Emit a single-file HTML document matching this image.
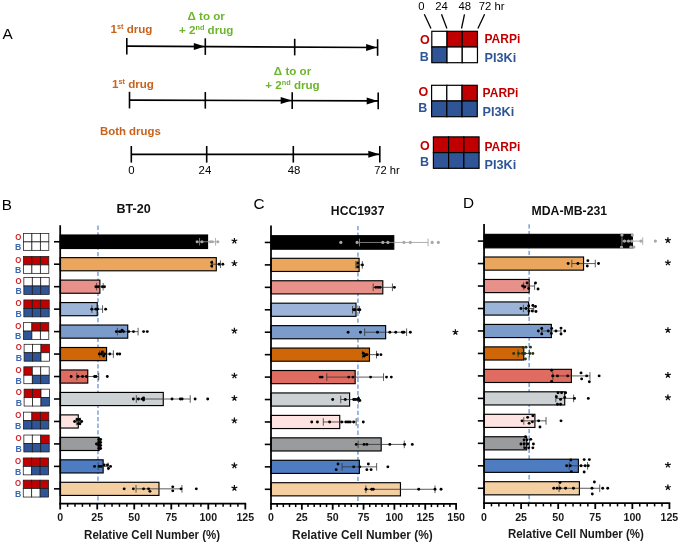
<!DOCTYPE html>
<html><head><meta charset="utf-8"><title>figure</title>
<style>
html,body{margin:0;padding:0;background:#fff;}
body{width:680px;height:543px;overflow:hidden;font-family:"Liberation Sans",sans-serif;}
svg{display:block;will-change:transform;}
svg text{font-family:"Liberation Sans",sans-serif;}
</style></head><body>
<svg width="680" height="543" viewBox="0 0 680 543">
<rect width="680" height="543" fill="#fff"/>
<text x="2.4" y="38.8" font-size="15.3" font-weight="normal" fill="#000" text-anchor="start" >A</text>
<text x="1.8" y="209.7" font-size="15.3" font-weight="normal" fill="#000" text-anchor="start" >B</text>
<text x="253.4" y="209.3" font-size="15.3" font-weight="normal" fill="#000" text-anchor="start" >C</text>
<text x="463" y="207.9" font-size="15.3" font-weight="normal" fill="#000" text-anchor="start" >D</text>
<line x1="126.8" y1="46.2" x2="377.6" y2="47.5" stroke="#000" stroke-width="1.7"/>
<line x1="126.8" y1="37.90" x2="126.8" y2="54.50" stroke="#000" stroke-width="1.6"/>
<line x1="205.3" y1="38.31" x2="205.3" y2="54.91" stroke="#000" stroke-width="1.6"/>
<line x1="294.7" y1="38.77" x2="294.7" y2="55.37" stroke="#000" stroke-width="1.6"/>
<line x1="377.6" y1="39.20" x2="377.6" y2="55.80" stroke="#000" stroke-width="1.6"/>
<path d="M204.8,46.61 L193.8,43.11 L193.8,50.11 Z" fill="#000"/>
<path d="M377.1,47.50 L366.1,44.00 L366.1,51.00 Z" fill="#000"/>
<line x1="129.5" y1="100.1" x2="378.2" y2="100.9" stroke="#000" stroke-width="1.7"/>
<line x1="129.5" y1="91.80" x2="129.5" y2="108.40" stroke="#000" stroke-width="1.6"/>
<line x1="205.3" y1="92.04" x2="205.3" y2="108.64" stroke="#000" stroke-width="1.6"/>
<line x1="292.2" y1="92.32" x2="292.2" y2="108.92" stroke="#000" stroke-width="1.6"/>
<line x1="378.2" y1="92.60" x2="378.2" y2="109.20" stroke="#000" stroke-width="1.6"/>
<path d="M291.7,100.62 L280.7,97.12 L280.7,104.12 Z" fill="#000"/>
<path d="M377.7,100.90 L366.7,97.40 L366.7,104.40 Z" fill="#000"/>
<line x1="131.3" y1="154.3" x2="379.8" y2="154.3" stroke="#000" stroke-width="1.7"/>
<line x1="131.3" y1="146.00" x2="131.3" y2="162.60" stroke="#000" stroke-width="1.6"/>
<line x1="206.7" y1="146.00" x2="206.7" y2="162.60" stroke="#000" stroke-width="1.6"/>
<line x1="293.3" y1="146.00" x2="293.3" y2="162.60" stroke="#000" stroke-width="1.6"/>
<line x1="379.8" y1="146.00" x2="379.8" y2="162.60" stroke="#000" stroke-width="1.6"/>
<path d="M379.3,154.30 L368.3,150.80 L368.3,157.80 Z" fill="#000"/>
<text x="110.5" y="32.5" font-size="11.6" font-weight="bold" fill="#c8621b">1<tspan dy="-3.8" font-size="7.3">st</tspan><tspan dy="3.8"> drug</tspan></text>
<text x="206.2" y="20" font-size="11.6" font-weight="bold" fill="#6cb52d" text-anchor="middle">Δ to or</text>
<text x="206.2" y="33.8" font-size="11.6" font-weight="bold" fill="#6cb52d" text-anchor="middle">+ 2<tspan dy="-3.8" font-size="7.3">nd</tspan><tspan dy="3.8"> drug</tspan></text>
<text x="112" y="87.5" font-size="11.6" font-weight="bold" fill="#c8621b">1<tspan dy="-3.8" font-size="7.3">st</tspan><tspan dy="3.8"> drug</tspan></text>
<text x="292.5" y="74.8" font-size="11.6" font-weight="bold" fill="#6cb52d" text-anchor="middle">Δ to or</text>
<text x="292.5" y="88.6" font-size="11.6" font-weight="bold" fill="#6cb52d" text-anchor="middle">+ 2<tspan dy="-3.8" font-size="7.3">nd</tspan><tspan dy="3.8"> drug</tspan></text>
<text x="100" y="135" font-size="11.4" font-weight="bold" fill="#c8621b" text-anchor="start" >Both drugs</text>
<text x="131.5" y="173.5" font-size="11.4" font-weight="normal" fill="#000" text-anchor="middle" >0</text>
<text x="204.9" y="173.5" font-size="11.4" font-weight="normal" fill="#000" text-anchor="middle" >24</text>
<text x="294" y="173.5" font-size="11.4" font-weight="normal" fill="#000" text-anchor="middle" >48</text>
<text x="374.3" y="173.5" font-size="11.2" font-weight="normal" fill="#000" text-anchor="start" >72 hr</text>
<text x="421.5" y="10.2" font-size="11.3" font-weight="normal" fill="#000" text-anchor="middle" >0</text>
<text x="441.5" y="10.2" font-size="11.3" font-weight="normal" fill="#000" text-anchor="middle" >24</text>
<text x="464.7" y="10.2" font-size="11.3" font-weight="normal" fill="#000" text-anchor="middle" >48</text>
<text x="478.8" y="10.2" font-size="11.3" font-weight="normal" fill="#000" text-anchor="start" >72 hr</text>
<line x1="424.3" y1="14.3" x2="431" y2="28.5" stroke="#000" stroke-width="1.3"/>
<line x1="441.5" y1="14.3" x2="446.9" y2="28.5" stroke="#000" stroke-width="1.3"/>
<line x1="464.5" y1="14.3" x2="461.5" y2="28.5" stroke="#000" stroke-width="1.3"/>
<line x1="484.6" y1="14.3" x2="477.9" y2="28.5" stroke="#000" stroke-width="1.3"/>
<rect x="431.80" y="31.30" width="15.22" height="15.7" fill="#fff" stroke="#000" stroke-width="1.2"/>
<rect x="447.02" y="31.30" width="15.22" height="15.7" fill="#c00000" stroke="#000" stroke-width="1.2"/>
<rect x="462.24" y="31.30" width="15.22" height="15.7" fill="#c00000" stroke="#000" stroke-width="1.2"/>
<rect x="431.80" y="47.00" width="15.22" height="15.7" fill="#2f5597" stroke="#000" stroke-width="1.2"/>
<rect x="447.02" y="47.00" width="15.22" height="15.7" fill="#fff" stroke="#000" stroke-width="1.2"/>
<rect x="462.24" y="47.00" width="15.22" height="15.7" fill="#fff" stroke="#000" stroke-width="1.2"/>
<text x="419.9" y="44.4" font-size="12.5" font-weight="bold" fill="#c00000" text-anchor="start" >O</text>
<text x="419.8" y="61.1" font-size="12.5" font-weight="bold" fill="#2f5597" text-anchor="start" >B</text>
<text x="484.5" y="42.9" font-size="12.5" font-weight="bold" fill="#c00000" text-anchor="start" textLength="35.8" lengthAdjust="spacingAndGlyphs">PARPi</text>
<text x="484.5" y="61.9" font-size="12.5" font-weight="bold" fill="#2f5597" text-anchor="start" textLength="31.7" lengthAdjust="spacingAndGlyphs">PI3Ki</text>
<rect x="431.60" y="85.30" width="15.22" height="15.7" fill="#fff" stroke="#000" stroke-width="1.2"/>
<rect x="446.82" y="85.30" width="15.22" height="15.7" fill="#fff" stroke="#000" stroke-width="1.2"/>
<rect x="462.04" y="85.30" width="15.22" height="15.7" fill="#c00000" stroke="#000" stroke-width="1.2"/>
<rect x="431.60" y="101.00" width="15.22" height="15.7" fill="#2f5597" stroke="#000" stroke-width="1.2"/>
<rect x="446.82" y="101.00" width="15.22" height="15.7" fill="#2f5597" stroke="#000" stroke-width="1.2"/>
<rect x="462.04" y="101.00" width="15.22" height="15.7" fill="#2f5597" stroke="#000" stroke-width="1.2"/>
<text x="418.5" y="96.2" font-size="12.5" font-weight="bold" fill="#c00000" text-anchor="start" >O</text>
<text x="418.3" y="112.4" font-size="12.5" font-weight="bold" fill="#2f5597" text-anchor="start" >B</text>
<text x="482.6" y="96.9" font-size="12.5" font-weight="bold" fill="#c00000" text-anchor="start" textLength="35.8" lengthAdjust="spacingAndGlyphs">PARPi</text>
<text x="482.6" y="115.5" font-size="12.5" font-weight="bold" fill="#2f5597" text-anchor="start" textLength="31.7" lengthAdjust="spacingAndGlyphs">PI3Ki</text>
<rect x="433.40" y="136.90" width="15.22" height="15.7" fill="#c00000" stroke="#000" stroke-width="1.2"/>
<rect x="448.62" y="136.90" width="15.22" height="15.7" fill="#c00000" stroke="#000" stroke-width="1.2"/>
<rect x="463.84" y="136.90" width="15.22" height="15.7" fill="#c00000" stroke="#000" stroke-width="1.2"/>
<rect x="433.40" y="152.60" width="15.22" height="15.7" fill="#2f5597" stroke="#000" stroke-width="1.2"/>
<rect x="448.62" y="152.60" width="15.22" height="15.7" fill="#2f5597" stroke="#000" stroke-width="1.2"/>
<rect x="463.84" y="152.60" width="15.22" height="15.7" fill="#2f5597" stroke="#000" stroke-width="1.2"/>
<text x="419.9" y="149.7" font-size="12.5" font-weight="bold" fill="#c00000" text-anchor="start" >O</text>
<text x="420" y="166.4" font-size="12.5" font-weight="bold" fill="#2f5597" text-anchor="start" >B</text>
<text x="484.5" y="150.5" font-size="12.5" font-weight="bold" fill="#c00000" text-anchor="start" textLength="35.8" lengthAdjust="spacingAndGlyphs">PARPi</text>
<text x="484.5" y="169.2" font-size="12.5" font-weight="bold" fill="#2f5597" text-anchor="start" textLength="31.7" lengthAdjust="spacingAndGlyphs">PI3Ki</text>
<rect x="23.45" y="233.45" width="8.45" height="8.45" fill="#fff" stroke="#1a1a1a" stroke-width="0.75"/>
<rect x="31.90" y="233.45" width="8.45" height="8.45" fill="#fff" stroke="#1a1a1a" stroke-width="0.75"/>
<rect x="40.35" y="233.45" width="8.45" height="8.45" fill="#fff" stroke="#1a1a1a" stroke-width="0.75"/>
<rect x="23.45" y="241.90" width="8.45" height="8.45" fill="#fff" stroke="#1a1a1a" stroke-width="0.75"/>
<rect x="31.90" y="241.90" width="8.45" height="8.45" fill="#fff" stroke="#1a1a1a" stroke-width="0.75"/>
<rect x="40.35" y="241.90" width="8.45" height="8.45" fill="#fff" stroke="#1a1a1a" stroke-width="0.75"/>
<text x="15.15" y="239.55" font-size="9.1" font-weight="bold" fill="#d0242c" text-anchor="start" textLength="6.1" lengthAdjust="spacingAndGlyphs">O</text>
<text x="15.10" y="250.25" font-size="9.1" font-weight="bold" fill="#3a66b0" text-anchor="start" textLength="6.3" lengthAdjust="spacingAndGlyphs">B</text>
<rect x="23.45" y="256.45" width="8.45" height="8.45" fill="#c00000" stroke="#1a1a1a" stroke-width="0.75"/>
<rect x="31.90" y="256.45" width="8.45" height="8.45" fill="#c00000" stroke="#1a1a1a" stroke-width="0.75"/>
<rect x="40.35" y="256.45" width="8.45" height="8.45" fill="#c00000" stroke="#1a1a1a" stroke-width="0.75"/>
<rect x="23.45" y="264.90" width="8.45" height="8.45" fill="#fff" stroke="#1a1a1a" stroke-width="0.75"/>
<rect x="31.90" y="264.90" width="8.45" height="8.45" fill="#fff" stroke="#1a1a1a" stroke-width="0.75"/>
<rect x="40.35" y="264.90" width="8.45" height="8.45" fill="#fff" stroke="#1a1a1a" stroke-width="0.75"/>
<text x="15.15" y="262.55" font-size="9.1" font-weight="bold" fill="#d0242c" text-anchor="start" textLength="6.1" lengthAdjust="spacingAndGlyphs">O</text>
<text x="15.10" y="273.25" font-size="9.1" font-weight="bold" fill="#3a66b0" text-anchor="start" textLength="6.3" lengthAdjust="spacingAndGlyphs">B</text>
<rect x="23.85" y="277.55" width="8.45" height="8.45" fill="#fff" stroke="#1a1a1a" stroke-width="0.75"/>
<rect x="32.30" y="277.55" width="8.45" height="8.45" fill="#fff" stroke="#1a1a1a" stroke-width="0.75"/>
<rect x="40.75" y="277.55" width="8.45" height="8.45" fill="#fff" stroke="#1a1a1a" stroke-width="0.75"/>
<rect x="23.85" y="286.00" width="8.45" height="8.45" fill="#2f5597" stroke="#1a1a1a" stroke-width="0.75"/>
<rect x="32.30" y="286.00" width="8.45" height="8.45" fill="#2f5597" stroke="#1a1a1a" stroke-width="0.75"/>
<rect x="40.75" y="286.00" width="8.45" height="8.45" fill="#2f5597" stroke="#1a1a1a" stroke-width="0.75"/>
<text x="15.55" y="283.65" font-size="9.1" font-weight="bold" fill="#d0242c" text-anchor="start" textLength="6.1" lengthAdjust="spacingAndGlyphs">O</text>
<text x="15.50" y="294.35" font-size="9.1" font-weight="bold" fill="#3a66b0" text-anchor="start" textLength="6.3" lengthAdjust="spacingAndGlyphs">B</text>
<rect x="23.85" y="299.95" width="8.45" height="8.45" fill="#c00000" stroke="#1a1a1a" stroke-width="0.75"/>
<rect x="32.30" y="299.95" width="8.45" height="8.45" fill="#c00000" stroke="#1a1a1a" stroke-width="0.75"/>
<rect x="40.75" y="299.95" width="8.45" height="8.45" fill="#c00000" stroke="#1a1a1a" stroke-width="0.75"/>
<rect x="23.85" y="308.40" width="8.45" height="8.45" fill="#2f5597" stroke="#1a1a1a" stroke-width="0.75"/>
<rect x="32.30" y="308.40" width="8.45" height="8.45" fill="#2f5597" stroke="#1a1a1a" stroke-width="0.75"/>
<rect x="40.75" y="308.40" width="8.45" height="8.45" fill="#2f5597" stroke="#1a1a1a" stroke-width="0.75"/>
<text x="15.55" y="306.05" font-size="9.1" font-weight="bold" fill="#d0242c" text-anchor="start" textLength="6.1" lengthAdjust="spacingAndGlyphs">O</text>
<text x="15.50" y="316.75" font-size="9.1" font-weight="bold" fill="#3a66b0" text-anchor="start" textLength="6.3" lengthAdjust="spacingAndGlyphs">B</text>
<rect x="23.45" y="322.65" width="8.45" height="8.45" fill="#fff" stroke="#1a1a1a" stroke-width="0.75"/>
<rect x="31.90" y="322.65" width="8.45" height="8.45" fill="#c00000" stroke="#1a1a1a" stroke-width="0.75"/>
<rect x="40.35" y="322.65" width="8.45" height="8.45" fill="#c00000" stroke="#1a1a1a" stroke-width="0.75"/>
<rect x="23.45" y="331.10" width="8.45" height="8.45" fill="#2f5597" stroke="#1a1a1a" stroke-width="0.75"/>
<rect x="31.90" y="331.10" width="8.45" height="8.45" fill="#fff" stroke="#1a1a1a" stroke-width="0.75"/>
<rect x="40.35" y="331.10" width="8.45" height="8.45" fill="#fff" stroke="#1a1a1a" stroke-width="0.75"/>
<text x="15.15" y="328.75" font-size="9.1" font-weight="bold" fill="#d0242c" text-anchor="start" textLength="6.1" lengthAdjust="spacingAndGlyphs">O</text>
<text x="15.10" y="339.45" font-size="9.1" font-weight="bold" fill="#3a66b0" text-anchor="start" textLength="6.3" lengthAdjust="spacingAndGlyphs">B</text>
<rect x="24.10" y="344.30" width="8.45" height="8.45" fill="#fff" stroke="#1a1a1a" stroke-width="0.75"/>
<rect x="32.55" y="344.30" width="8.45" height="8.45" fill="#fff" stroke="#1a1a1a" stroke-width="0.75"/>
<rect x="41.00" y="344.30" width="8.45" height="8.45" fill="#c00000" stroke="#1a1a1a" stroke-width="0.75"/>
<rect x="24.10" y="352.75" width="8.45" height="8.45" fill="#2f5597" stroke="#1a1a1a" stroke-width="0.75"/>
<rect x="32.55" y="352.75" width="8.45" height="8.45" fill="#2f5597" stroke="#1a1a1a" stroke-width="0.75"/>
<rect x="41.00" y="352.75" width="8.45" height="8.45" fill="#fff" stroke="#1a1a1a" stroke-width="0.75"/>
<text x="15.80" y="350.40" font-size="9.1" font-weight="bold" fill="#d0242c" text-anchor="start" textLength="6.1" lengthAdjust="spacingAndGlyphs">O</text>
<text x="15.75" y="361.10" font-size="9.1" font-weight="bold" fill="#3a66b0" text-anchor="start" textLength="6.3" lengthAdjust="spacingAndGlyphs">B</text>
<rect x="23.85" y="366.80" width="8.45" height="8.45" fill="#c00000" stroke="#1a1a1a" stroke-width="0.75"/>
<rect x="32.30" y="366.80" width="8.45" height="8.45" fill="#fff" stroke="#1a1a1a" stroke-width="0.75"/>
<rect x="40.75" y="366.80" width="8.45" height="8.45" fill="#fff" stroke="#1a1a1a" stroke-width="0.75"/>
<rect x="23.85" y="375.25" width="8.45" height="8.45" fill="#fff" stroke="#1a1a1a" stroke-width="0.75"/>
<rect x="32.30" y="375.25" width="8.45" height="8.45" fill="#2f5597" stroke="#1a1a1a" stroke-width="0.75"/>
<rect x="40.75" y="375.25" width="8.45" height="8.45" fill="#2f5597" stroke="#1a1a1a" stroke-width="0.75"/>
<text x="15.55" y="372.90" font-size="9.1" font-weight="bold" fill="#d0242c" text-anchor="start" textLength="6.1" lengthAdjust="spacingAndGlyphs">O</text>
<text x="15.50" y="383.60" font-size="9.1" font-weight="bold" fill="#3a66b0" text-anchor="start" textLength="6.3" lengthAdjust="spacingAndGlyphs">B</text>
<rect x="24.10" y="389.15" width="8.45" height="8.45" fill="#c00000" stroke="#1a1a1a" stroke-width="0.75"/>
<rect x="32.55" y="389.15" width="8.45" height="8.45" fill="#c00000" stroke="#1a1a1a" stroke-width="0.75"/>
<rect x="41.00" y="389.15" width="8.45" height="8.45" fill="#fff" stroke="#1a1a1a" stroke-width="0.75"/>
<rect x="24.10" y="397.60" width="8.45" height="8.45" fill="#fff" stroke="#1a1a1a" stroke-width="0.75"/>
<rect x="32.55" y="397.60" width="8.45" height="8.45" fill="#fff" stroke="#1a1a1a" stroke-width="0.75"/>
<rect x="41.00" y="397.60" width="8.45" height="8.45" fill="#2f5597" stroke="#1a1a1a" stroke-width="0.75"/>
<text x="15.80" y="395.25" font-size="9.1" font-weight="bold" fill="#d0242c" text-anchor="start" textLength="6.1" lengthAdjust="spacingAndGlyphs">O</text>
<text x="15.75" y="405.95" font-size="9.1" font-weight="bold" fill="#3a66b0" text-anchor="start" textLength="6.3" lengthAdjust="spacingAndGlyphs">B</text>
<rect x="23.45" y="412.15" width="8.45" height="8.45" fill="#fff" stroke="#1a1a1a" stroke-width="0.75"/>
<rect x="31.90" y="412.15" width="8.45" height="8.45" fill="#c00000" stroke="#1a1a1a" stroke-width="0.75"/>
<rect x="40.35" y="412.15" width="8.45" height="8.45" fill="#c00000" stroke="#1a1a1a" stroke-width="0.75"/>
<rect x="23.45" y="420.60" width="8.45" height="8.45" fill="#2f5597" stroke="#1a1a1a" stroke-width="0.75"/>
<rect x="31.90" y="420.60" width="8.45" height="8.45" fill="#2f5597" stroke="#1a1a1a" stroke-width="0.75"/>
<rect x="40.35" y="420.60" width="8.45" height="8.45" fill="#2f5597" stroke="#1a1a1a" stroke-width="0.75"/>
<text x="15.15" y="418.25" font-size="9.1" font-weight="bold" fill="#d0242c" text-anchor="start" textLength="6.1" lengthAdjust="spacingAndGlyphs">O</text>
<text x="15.10" y="428.95" font-size="9.1" font-weight="bold" fill="#3a66b0" text-anchor="start" textLength="6.3" lengthAdjust="spacingAndGlyphs">B</text>
<rect x="23.85" y="435.05" width="8.45" height="8.45" fill="#fff" stroke="#1a1a1a" stroke-width="0.75"/>
<rect x="32.30" y="435.05" width="8.45" height="8.45" fill="#fff" stroke="#1a1a1a" stroke-width="0.75"/>
<rect x="40.75" y="435.05" width="8.45" height="8.45" fill="#c00000" stroke="#1a1a1a" stroke-width="0.75"/>
<rect x="23.85" y="443.50" width="8.45" height="8.45" fill="#2f5597" stroke="#1a1a1a" stroke-width="0.75"/>
<rect x="32.30" y="443.50" width="8.45" height="8.45" fill="#2f5597" stroke="#1a1a1a" stroke-width="0.75"/>
<rect x="40.75" y="443.50" width="8.45" height="8.45" fill="#2f5597" stroke="#1a1a1a" stroke-width="0.75"/>
<text x="15.55" y="441.15" font-size="9.1" font-weight="bold" fill="#d0242c" text-anchor="start" textLength="6.1" lengthAdjust="spacingAndGlyphs">O</text>
<text x="15.50" y="451.85" font-size="9.1" font-weight="bold" fill="#3a66b0" text-anchor="start" textLength="6.3" lengthAdjust="spacingAndGlyphs">B</text>
<rect x="23.25" y="457.95" width="8.45" height="8.45" fill="#c00000" stroke="#1a1a1a" stroke-width="0.75"/>
<rect x="31.70" y="457.95" width="8.45" height="8.45" fill="#c00000" stroke="#1a1a1a" stroke-width="0.75"/>
<rect x="40.15" y="457.95" width="8.45" height="8.45" fill="#c00000" stroke="#1a1a1a" stroke-width="0.75"/>
<rect x="23.25" y="466.40" width="8.45" height="8.45" fill="#fff" stroke="#1a1a1a" stroke-width="0.75"/>
<rect x="31.70" y="466.40" width="8.45" height="8.45" fill="#2f5597" stroke="#1a1a1a" stroke-width="0.75"/>
<rect x="40.15" y="466.40" width="8.45" height="8.45" fill="#2f5597" stroke="#1a1a1a" stroke-width="0.75"/>
<text x="14.95" y="464.05" font-size="9.1" font-weight="bold" fill="#d0242c" text-anchor="start" textLength="6.1" lengthAdjust="spacingAndGlyphs">O</text>
<text x="14.90" y="474.75" font-size="9.1" font-weight="bold" fill="#3a66b0" text-anchor="start" textLength="6.3" lengthAdjust="spacingAndGlyphs">B</text>
<rect x="23.25" y="480.15" width="8.45" height="8.45" fill="#c00000" stroke="#1a1a1a" stroke-width="0.75"/>
<rect x="31.70" y="480.15" width="8.45" height="8.45" fill="#c00000" stroke="#1a1a1a" stroke-width="0.75"/>
<rect x="40.15" y="480.15" width="8.45" height="8.45" fill="#c00000" stroke="#1a1a1a" stroke-width="0.75"/>
<rect x="23.25" y="488.60" width="8.45" height="8.45" fill="#fff" stroke="#1a1a1a" stroke-width="0.75"/>
<rect x="31.70" y="488.60" width="8.45" height="8.45" fill="#fff" stroke="#1a1a1a" stroke-width="0.75"/>
<rect x="40.15" y="488.60" width="8.45" height="8.45" fill="#2f5597" stroke="#1a1a1a" stroke-width="0.75"/>
<text x="14.95" y="486.25" font-size="9.1" font-weight="bold" fill="#d0242c" text-anchor="start" textLength="6.1" lengthAdjust="spacingAndGlyphs">O</text>
<text x="14.90" y="496.95" font-size="9.1" font-weight="bold" fill="#3a66b0" text-anchor="start" textLength="6.3" lengthAdjust="spacingAndGlyphs">B</text>
<line x1="97.97" y1="225.6" x2="97.97" y2="503.65" stroke="#6f98d6" stroke-width="1.35" stroke-dasharray="4.3,2.3"/>
<rect x="60.2" y="235.00" width="147.36" height="13.5" fill="#000000" stroke="#000" stroke-width="1.15"/>
<path d="M199.56,241.75 H215.56 M199.56,237.95 v7.6 M215.56,237.95 v7.6" stroke="#9a9a9a" stroke-width="0.8" fill="none"/>
<circle cx="197.19" cy="241.75" r="1.6" fill="#a8a8a8"/>
<circle cx="201.93" cy="241.75" r="1.6" fill="#a8a8a8"/>
<circle cx="210.37" cy="241.75" r="1.6" fill="#a8a8a8"/>
<circle cx="212.30" cy="241.75" r="1.6" fill="#a8a8a8"/>
<circle cx="217.78" cy="241.75" r="1.6" fill="#a8a8a8"/>
<line x1="54.0" y1="241.75" x2="60.2" y2="241.75" stroke="#000" stroke-width="1.6"/>
<rect x="60.2" y="257.64" width="156.10" height="13.15" fill="#e9a65c" stroke="#000" stroke-width="1.15"/>
<path d="M212.15,264.21 H220.44 M212.15,260.41 v7.6 M220.44,260.41 v7.6" stroke="#333" stroke-width="0.8" fill="none"/>
<circle cx="211.71" cy="262.41" r="1.45" fill="#000"/>
<circle cx="211.71" cy="266.01" r="1.45" fill="#000"/>
<circle cx="219.11" cy="264.21" r="1.45" fill="#000"/>
<circle cx="222.81" cy="264.21" r="1.45" fill="#000"/>
<line x1="54.0" y1="264.21" x2="60.2" y2="264.21" stroke="#000" stroke-width="1.6"/>
<rect x="60.2" y="280.10" width="39.69" height="13.15" fill="#e8908a" stroke="#000" stroke-width="1.15"/>
<path d="M96.63,286.68 H103.15 M96.63,282.88 v7.6 M103.15,282.88 v7.6" stroke="#333" stroke-width="0.8" fill="none"/>
<circle cx="95.89" cy="286.68" r="1.45" fill="#000"/>
<circle cx="98.26" cy="286.68" r="1.45" fill="#000"/>
<circle cx="102.41" cy="286.68" r="1.45" fill="#000"/>
<circle cx="104.48" cy="286.68" r="1.45" fill="#000"/>
<line x1="54.0" y1="286.68" x2="60.2" y2="286.68" stroke="#000" stroke-width="1.6"/>
<rect x="60.2" y="302.57" width="37.03" height="13.15" fill="#9cb4d8" stroke="#000" stroke-width="1.15"/>
<path d="M91.89,309.14 H102.56 M91.89,305.34 v7.6 M102.56,305.34 v7.6" stroke="#333" stroke-width="0.8" fill="none"/>
<circle cx="91.75" cy="309.14" r="1.45" fill="#000"/>
<circle cx="95.89" cy="309.14" r="1.45" fill="#000"/>
<circle cx="97.52" cy="309.14" r="1.45" fill="#000"/>
<circle cx="105.67" cy="309.14" r="1.45" fill="#000"/>
<line x1="54.0" y1="309.14" x2="60.2" y2="309.14" stroke="#000" stroke-width="1.6"/>
<rect x="60.2" y="325.03" width="67.53" height="13.15" fill="#7b9bcb" stroke="#000" stroke-width="1.15"/>
<path d="M117.37,331.61 H138.10 M117.37,327.81 v7.6 M138.10,327.81 v7.6" stroke="#333" stroke-width="0.8" fill="none"/>
<circle cx="116.33" cy="331.61" r="1.45" fill="#000"/>
<circle cx="119.44" cy="331.61" r="1.45" fill="#000"/>
<circle cx="120.92" cy="331.61" r="1.45" fill="#000"/>
<circle cx="122.11" cy="330.11" r="1.45" fill="#000"/>
<circle cx="123.59" cy="331.61" r="1.45" fill="#000"/>
<circle cx="128.77" cy="331.61" r="1.45" fill="#000"/>
<circle cx="133.51" cy="331.61" r="1.45" fill="#000"/>
<circle cx="143.58" cy="331.61" r="1.45" fill="#000"/>
<circle cx="147.28" cy="331.61" r="1.45" fill="#000"/>
<line x1="54.0" y1="331.61" x2="60.2" y2="331.61" stroke="#000" stroke-width="1.6"/>
<rect x="60.2" y="347.50" width="46.36" height="13.15" fill="#cf6708" stroke="#000" stroke-width="1.15"/>
<path d="M99.74,354.07 H113.37 M99.74,350.27 v7.6 M113.37,350.27 v7.6" stroke="#333" stroke-width="0.8" fill="none"/>
<circle cx="99.30" cy="354.07" r="1.45" fill="#000"/>
<circle cx="101.37" cy="354.07" r="1.45" fill="#000"/>
<circle cx="102.41" cy="352.07" r="1.45" fill="#000"/>
<circle cx="103.59" cy="356.07" r="1.45" fill="#000"/>
<circle cx="104.63" cy="354.07" r="1.45" fill="#000"/>
<circle cx="109.81" cy="354.07" r="1.45" fill="#000"/>
<circle cx="117.37" cy="354.07" r="1.45" fill="#000"/>
<circle cx="119.74" cy="354.07" r="1.45" fill="#000"/>
<line x1="54.0" y1="354.07" x2="60.2" y2="354.07" stroke="#000" stroke-width="1.6"/>
<rect x="60.2" y="369.96" width="27.55" height="13.15" fill="#e06b60" stroke="#000" stroke-width="1.15"/>
<path d="M76.79,376.53 H98.71 M76.79,372.73 v7.6 M98.71,372.73 v7.6" stroke="#333" stroke-width="0.8" fill="none"/>
<circle cx="71.16" cy="376.53" r="1.45" fill="#000"/>
<circle cx="77.97" cy="376.53" r="1.45" fill="#000"/>
<circle cx="82.56" cy="376.53" r="1.45" fill="#000"/>
<circle cx="86.41" cy="376.53" r="1.45" fill="#000"/>
<circle cx="94.56" cy="376.53" r="1.45" fill="#000"/>
<circle cx="96.04" cy="376.53" r="1.45" fill="#000"/>
<circle cx="107.30" cy="376.53" r="1.45" fill="#000"/>
<line x1="54.0" y1="376.53" x2="60.2" y2="376.53" stroke="#000" stroke-width="1.6"/>
<rect x="60.2" y="392.42" width="103.08" height="13.15" fill="#ccd2d3" stroke="#000" stroke-width="1.15"/>
<path d="M136.32,399.00 H190.23 M136.32,395.20 v7.6 M190.23,395.20 v7.6" stroke="#333" stroke-width="0.8" fill="none"/>
<circle cx="133.36" cy="399.00" r="1.45" fill="#000"/>
<circle cx="138.40" cy="399.00" r="1.45" fill="#000"/>
<circle cx="142.25" cy="399.00" r="1.45" fill="#000"/>
<circle cx="143.58" cy="398.00" r="1.45" fill="#000"/>
<circle cx="143.58" cy="400.00" r="1.45" fill="#000"/>
<circle cx="172.02" cy="399.00" r="1.45" fill="#000"/>
<circle cx="180.31" cy="399.00" r="1.45" fill="#000"/>
<circle cx="182.09" cy="399.00" r="1.45" fill="#000"/>
<circle cx="195.12" cy="399.00" r="1.45" fill="#000"/>
<circle cx="207.71" cy="399.00" r="1.45" fill="#000"/>
<line x1="54.0" y1="399.00" x2="60.2" y2="399.00" stroke="#000" stroke-width="1.6"/>
<rect x="60.2" y="414.89" width="18.07" height="13.15" fill="#fde3e1" stroke="#000" stroke-width="1.15"/>
<path d="M76.34,421.46 H80.19 M76.34,417.66 v7.6 M80.19,417.66 v7.6" stroke="#333" stroke-width="0.8" fill="none"/>
<circle cx="74.57" cy="421.46" r="1.45" fill="#000"/>
<circle cx="77.08" cy="419.46" r="1.45" fill="#000"/>
<circle cx="78.27" cy="423.66" r="1.45" fill="#000"/>
<circle cx="79.60" cy="419.46" r="1.45" fill="#000"/>
<circle cx="79.90" cy="423.66" r="1.45" fill="#000"/>
<circle cx="81.67" cy="421.46" r="1.45" fill="#000"/>
<line x1="54.0" y1="421.46" x2="60.2" y2="421.46" stroke="#000" stroke-width="1.6"/>
<rect x="60.2" y="437.35" width="38.95" height="13.15" fill="#9a9b9c" stroke="#000" stroke-width="1.15"/>
<path d="M97.97,443.93 H100.34 M97.97,440.13 v7.6 M100.34,440.13 v7.6" stroke="#333" stroke-width="0.8" fill="none"/>
<circle cx="96.48" cy="443.93" r="1.45" fill="#000"/>
<circle cx="98.71" cy="439.43" r="1.45" fill="#000"/>
<circle cx="100.63" cy="439.43" r="1.45" fill="#000"/>
<circle cx="98.71" cy="442.43" r="1.45" fill="#000"/>
<circle cx="100.63" cy="442.43" r="1.45" fill="#000"/>
<circle cx="98.71" cy="445.43" r="1.45" fill="#000"/>
<circle cx="100.63" cy="445.43" r="1.45" fill="#000"/>
<circle cx="98.71" cy="448.43" r="1.45" fill="#000"/>
<circle cx="100.63" cy="448.43" r="1.45" fill="#000"/>
<line x1="54.0" y1="443.93" x2="60.2" y2="443.93" stroke="#000" stroke-width="1.6"/>
<rect x="60.2" y="459.81" width="42.95" height="13.15" fill="#4d7cc0" stroke="#000" stroke-width="1.15"/>
<path d="M98.11,466.39 H108.18 M98.11,462.59 v7.6 M108.18,462.59 v7.6" stroke="#333" stroke-width="0.8" fill="none"/>
<circle cx="94.56" cy="466.39" r="1.45" fill="#000"/>
<circle cx="99.15" cy="466.39" r="1.45" fill="#000"/>
<circle cx="101.22" cy="466.39" r="1.45" fill="#000"/>
<circle cx="104.19" cy="464.89" r="1.45" fill="#000"/>
<circle cx="107.44" cy="464.89" r="1.45" fill="#000"/>
<circle cx="108.48" cy="468.39" r="1.45" fill="#000"/>
<circle cx="110.55" cy="466.39" r="1.45" fill="#000"/>
<line x1="54.0" y1="466.39" x2="60.2" y2="466.39" stroke="#000" stroke-width="1.6"/>
<rect x="60.2" y="482.28" width="98.78" height="13.15" fill="#f4cfa2" stroke="#000" stroke-width="1.15"/>
<path d="M136.03,488.85 H181.94 M136.03,485.05 v7.6 M181.94,485.05 v7.6" stroke="#333" stroke-width="0.8" fill="none"/>
<circle cx="124.18" cy="488.85" r="1.45" fill="#000"/>
<circle cx="133.36" cy="488.85" r="1.45" fill="#000"/>
<circle cx="143.58" cy="488.85" r="1.45" fill="#000"/>
<circle cx="148.62" cy="488.85" r="1.45" fill="#000"/>
<circle cx="149.95" cy="491.35" r="1.45" fill="#000"/>
<circle cx="172.76" cy="486.85" r="1.45" fill="#000"/>
<circle cx="172.76" cy="490.85" r="1.45" fill="#000"/>
<circle cx="181.05" cy="488.85" r="1.45" fill="#000"/>
<circle cx="196.30" cy="488.85" r="1.45" fill="#000"/>
<line x1="54.0" y1="488.85" x2="60.2" y2="488.85" stroke="#000" stroke-width="1.6"/>
<line x1="60.2" y1="225.2" x2="60.2" y2="504.5" stroke="#000" stroke-width="1.75"/>
<line x1="59.35" y1="503.65" x2="246.17" y2="503.65" stroke="#000" stroke-width="1.75"/>
<line x1="60.20" y1="503.65" x2="60.20" y2="509.45" stroke="#000" stroke-width="1.8"/>
<text x="60.20" y="521.0" font-size="10.6" font-weight="bold" fill="#1a1a1a" text-anchor="middle" >0</text>
<line x1="67.61" y1="503.65" x2="67.61" y2="506.84999999999997" stroke="#000" stroke-width="1.5"/>
<line x1="75.01" y1="503.65" x2="75.01" y2="506.84999999999997" stroke="#000" stroke-width="1.5"/>
<line x1="82.42" y1="503.65" x2="82.42" y2="506.84999999999997" stroke="#000" stroke-width="1.5"/>
<line x1="89.82" y1="503.65" x2="89.82" y2="506.84999999999997" stroke="#000" stroke-width="1.5"/>
<line x1="97.23" y1="503.65" x2="97.23" y2="509.45" stroke="#000" stroke-width="1.8"/>
<text x="97.23" y="521.0" font-size="10.6" font-weight="bold" fill="#1a1a1a" text-anchor="middle" >25</text>
<line x1="104.63" y1="503.65" x2="104.63" y2="506.84999999999997" stroke="#000" stroke-width="1.5"/>
<line x1="112.03" y1="503.65" x2="112.03" y2="506.84999999999997" stroke="#000" stroke-width="1.5"/>
<line x1="119.44" y1="503.65" x2="119.44" y2="506.84999999999997" stroke="#000" stroke-width="1.5"/>
<line x1="126.85" y1="503.65" x2="126.85" y2="506.84999999999997" stroke="#000" stroke-width="1.5"/>
<line x1="134.25" y1="503.65" x2="134.25" y2="509.45" stroke="#000" stroke-width="1.8"/>
<text x="134.25" y="521.0" font-size="10.6" font-weight="bold" fill="#1a1a1a" text-anchor="middle" >50</text>
<line x1="141.66" y1="503.65" x2="141.66" y2="506.84999999999997" stroke="#000" stroke-width="1.5"/>
<line x1="149.06" y1="503.65" x2="149.06" y2="506.84999999999997" stroke="#000" stroke-width="1.5"/>
<line x1="156.47" y1="503.65" x2="156.47" y2="506.84999999999997" stroke="#000" stroke-width="1.5"/>
<line x1="163.87" y1="503.65" x2="163.87" y2="506.84999999999997" stroke="#000" stroke-width="1.5"/>
<line x1="171.28" y1="503.65" x2="171.28" y2="509.45" stroke="#000" stroke-width="1.8"/>
<text x="171.28" y="521.0" font-size="10.6" font-weight="bold" fill="#1a1a1a" text-anchor="middle" >75</text>
<line x1="178.68" y1="503.65" x2="178.68" y2="506.84999999999997" stroke="#000" stroke-width="1.5"/>
<line x1="186.09" y1="503.65" x2="186.09" y2="506.84999999999997" stroke="#000" stroke-width="1.5"/>
<line x1="193.49" y1="503.65" x2="193.49" y2="506.84999999999997" stroke="#000" stroke-width="1.5"/>
<line x1="200.90" y1="503.65" x2="200.90" y2="506.84999999999997" stroke="#000" stroke-width="1.5"/>
<line x1="208.30" y1="503.65" x2="208.30" y2="509.45" stroke="#000" stroke-width="1.8"/>
<text x="208.30" y="521.0" font-size="10.6" font-weight="bold" fill="#1a1a1a" text-anchor="middle" >100</text>
<line x1="215.71" y1="503.65" x2="215.71" y2="506.84999999999997" stroke="#000" stroke-width="1.5"/>
<line x1="223.11" y1="503.65" x2="223.11" y2="506.84999999999997" stroke="#000" stroke-width="1.5"/>
<line x1="230.51" y1="503.65" x2="230.51" y2="506.84999999999997" stroke="#000" stroke-width="1.5"/>
<line x1="237.92" y1="503.65" x2="237.92" y2="506.84999999999997" stroke="#000" stroke-width="1.5"/>
<line x1="245.32" y1="503.65" x2="245.32" y2="509.45" stroke="#000" stroke-width="1.8"/>
<text x="245.32" y="521.0" font-size="10.6" font-weight="bold" fill="#1a1a1a" text-anchor="middle" >125</text>
<text x="84.1" y="538.9" font-size="12" font-weight="bold" fill="#1a1a1a" text-anchor="start" textLength="136" lengthAdjust="spacingAndGlyphs">Relative Cell Number (%)</text>
<text x="116.5" y="213.2" font-size="12.1" font-weight="bold" fill="#111" text-anchor="start" textLength="34.2" lengthAdjust="spacingAndGlyphs">BT-20</text>
<path d="M234.40,240.95 L234.40,237.90 M234.40,240.95 L237.30,240.01 M234.40,240.95 L236.19,243.42 M234.40,240.95 L232.61,243.42 M234.40,240.95 L231.50,240.01" stroke="#111" stroke-width="1.25" stroke-linecap="butt" fill="none"/>
<path d="M234.40,263.41 L234.40,260.36 M234.40,263.41 L237.30,262.47 M234.40,263.41 L236.19,265.88 M234.40,263.41 L232.61,265.88 M234.40,263.41 L231.50,262.47" stroke="#111" stroke-width="1.25" stroke-linecap="butt" fill="none"/>
<path d="M234.40,330.81 L234.40,327.76 M234.40,330.81 L237.30,329.86 M234.40,330.81 L236.19,333.27 M234.40,330.81 L232.61,333.27 M234.40,330.81 L231.50,329.86" stroke="#111" stroke-width="1.25" stroke-linecap="butt" fill="none"/>
<path d="M234.40,375.73 L234.40,372.68 M234.40,375.73 L237.30,374.79 M234.40,375.73 L236.19,378.20 M234.40,375.73 L232.61,378.20 M234.40,375.73 L231.50,374.79" stroke="#111" stroke-width="1.25" stroke-linecap="butt" fill="none"/>
<path d="M234.40,398.20 L234.40,395.15 M234.40,398.20 L237.30,397.26 M234.40,398.20 L236.19,400.67 M234.40,398.20 L232.61,400.67 M234.40,398.20 L231.50,397.26" stroke="#111" stroke-width="1.25" stroke-linecap="butt" fill="none"/>
<path d="M234.40,420.66 L234.40,417.61 M234.40,420.66 L237.30,419.72 M234.40,420.66 L236.19,423.13 M234.40,420.66 L232.61,423.13 M234.40,420.66 L231.50,419.72" stroke="#111" stroke-width="1.25" stroke-linecap="butt" fill="none"/>
<path d="M234.40,465.59 L234.40,462.54 M234.40,465.59 L237.30,464.65 M234.40,465.59 L236.19,468.06 M234.40,465.59 L232.61,468.06 M234.40,465.59 L231.50,464.65" stroke="#111" stroke-width="1.25" stroke-linecap="butt" fill="none"/>
<path d="M234.40,488.05 L234.40,485.00 M234.40,488.05 L237.30,487.11 M234.40,488.05 L236.19,490.52 M234.40,488.05 L232.61,490.52 M234.40,488.05 L231.50,487.11" stroke="#111" stroke-width="1.25" stroke-linecap="butt" fill="none"/>
<line x1="357.94" y1="226.0" x2="357.94" y2="503.9" stroke="#6f98d6" stroke-width="1.35" stroke-dasharray="4.3,2.3"/>
<rect x="271.0" y="235.70" width="122.78" height="13.5" fill="#000000" stroke="#000" stroke-width="1.15"/>
<path d="M359.48,242.45 H428.09 M359.48,238.65 v7.6 M428.09,238.65 v7.6" stroke="#9a9a9a" stroke-width="0.8" fill="none"/>
<circle cx="340.84" cy="242.45" r="1.6" fill="#a8a8a8"/>
<circle cx="357.13" cy="242.45" r="1.6" fill="#a8a8a8"/>
<circle cx="382.80" cy="242.45" r="1.6" fill="#a8a8a8"/>
<circle cx="387.86" cy="242.45" r="1.6" fill="#a8a8a8"/>
<circle cx="403.90" cy="242.45" r="1.6" fill="#a8a8a8"/>
<circle cx="410.32" cy="242.45" r="1.6" fill="#a8a8a8"/>
<circle cx="432.16" cy="242.45" r="1.6" fill="#a8a8a8"/>
<circle cx="438.33" cy="242.45" r="1.6" fill="#a8a8a8"/>
<line x1="264.8" y1="242.45" x2="271.0" y2="242.45" stroke="#000" stroke-width="1.6"/>
<rect x="271.0" y="258.31" width="88.11" height="13.15" fill="#e9a65c" stroke="#000" stroke-width="1.15"/>
<path d="M355.90,264.89 H362.32 M355.90,261.09 v7.6 M362.32,261.09 v7.6" stroke="#333" stroke-width="0.8" fill="none"/>
<circle cx="357.75" cy="262.89" r="1.45" fill="#000"/>
<circle cx="357.75" cy="266.89" r="1.45" fill="#000"/>
<circle cx="362.44" cy="264.89" r="1.45" fill="#000"/>
<line x1="264.8" y1="264.89" x2="271.0" y2="264.89" stroke="#000" stroke-width="1.6"/>
<rect x="271.0" y="280.75" width="111.80" height="13.15" fill="#e8908a" stroke="#000" stroke-width="1.15"/>
<path d="M373.18,287.33 H392.43 M373.18,283.53 v7.6 M392.43,283.53 v7.6" stroke="#333" stroke-width="0.8" fill="none"/>
<circle cx="375.89" cy="287.33" r="1.45" fill="#000"/>
<circle cx="378.11" cy="287.33" r="1.45" fill="#000"/>
<circle cx="380.09" cy="287.33" r="1.45" fill="#000"/>
<circle cx="394.40" cy="287.33" r="1.45" fill="#000"/>
<line x1="264.8" y1="287.33" x2="271.0" y2="287.33" stroke="#000" stroke-width="1.6"/>
<rect x="271.0" y="303.19" width="85.02" height="13.15" fill="#9cb4d8" stroke="#000" stroke-width="1.15"/>
<path d="M352.57,309.77 H359.48 M352.57,305.97 v7.6 M359.48,305.97 v7.6" stroke="#333" stroke-width="0.8" fill="none"/>
<circle cx="353.68" cy="309.77" r="1.45" fill="#000"/>
<circle cx="354.91" cy="309.77" r="1.45" fill="#000"/>
<circle cx="358.49" cy="309.77" r="1.45" fill="#000"/>
<circle cx="359.85" cy="309.77" r="1.45" fill="#000"/>
<line x1="264.8" y1="309.77" x2="271.0" y2="309.77" stroke="#000" stroke-width="1.6"/>
<rect x="271.0" y="325.63" width="114.64" height="13.15" fill="#7b9bcb" stroke="#000" stroke-width="1.15"/>
<path d="M364.66,332.21 H406.62 M364.66,328.41 v7.6 M406.62,328.41 v7.6" stroke="#333" stroke-width="0.8" fill="none"/>
<circle cx="348.12" cy="332.21" r="1.45" fill="#000"/>
<circle cx="360.47" cy="332.21" r="1.45" fill="#000"/>
<circle cx="377.49" cy="332.21" r="1.45" fill="#000"/>
<circle cx="389.83" cy="332.21" r="1.45" fill="#000"/>
<circle cx="395.76" cy="332.21" r="1.45" fill="#000"/>
<circle cx="402.42" cy="332.21" r="1.45" fill="#000"/>
<circle cx="403.90" cy="332.21" r="1.45" fill="#000"/>
<circle cx="410.32" cy="332.21" r="1.45" fill="#000"/>
<line x1="264.8" y1="332.21" x2="271.0" y2="332.21" stroke="#000" stroke-width="1.6"/>
<rect x="271.0" y="348.07" width="98.47" height="13.15" fill="#cf6708" stroke="#000" stroke-width="1.15"/>
<path d="M362.44,354.65 H376.51 M362.44,350.85 v7.6 M376.51,350.85 v7.6" stroke="#333" stroke-width="0.8" fill="none"/>
<circle cx="363.30" cy="353.15" r="1.45" fill="#000"/>
<circle cx="364.04" cy="356.15" r="1.45" fill="#000"/>
<circle cx="365.52" cy="354.65" r="1.45" fill="#000"/>
<circle cx="366.88" cy="354.65" r="1.45" fill="#000"/>
<circle cx="377.49" cy="354.65" r="1.45" fill="#000"/>
<circle cx="380.95" cy="354.65" r="1.45" fill="#000"/>
<line x1="264.8" y1="354.65" x2="271.0" y2="354.65" stroke="#000" stroke-width="1.6"/>
<rect x="271.0" y="370.52" width="84.16" height="13.15" fill="#e06b60" stroke="#000" stroke-width="1.15"/>
<path d="M326.78,377.09 H383.54 M326.78,373.29 v7.6 M383.54,373.29 v7.6" stroke="#333" stroke-width="0.8" fill="none"/>
<circle cx="320.11" cy="377.09" r="1.45" fill="#000"/>
<circle cx="322.09" cy="377.09" r="1.45" fill="#000"/>
<circle cx="348.74" cy="377.09" r="1.45" fill="#000"/>
<circle cx="352.94" cy="377.09" r="1.45" fill="#000"/>
<circle cx="370.58" cy="377.09" r="1.45" fill="#000"/>
<circle cx="386.50" cy="377.09" r="1.45" fill="#000"/>
<circle cx="391.31" cy="377.09" r="1.45" fill="#000"/>
<line x1="264.8" y1="377.09" x2="271.0" y2="377.09" stroke="#000" stroke-width="1.6"/>
<rect x="271.0" y="392.95" width="78.61" height="13.15" fill="#ccd2d3" stroke="#000" stroke-width="1.15"/>
<path d="M340.72,399.53 H358.49 M340.72,395.73 v7.6 M358.49,395.73 v7.6" stroke="#333" stroke-width="0.8" fill="none"/>
<circle cx="332.70" cy="399.53" r="1.45" fill="#000"/>
<circle cx="345.29" cy="399.53" r="1.45" fill="#000"/>
<circle cx="353.68" cy="399.53" r="1.45" fill="#000"/>
<circle cx="355.16" cy="399.53" r="1.45" fill="#000"/>
<circle cx="357.13" cy="399.53" r="1.45" fill="#000"/>
<circle cx="358.49" cy="398.53" r="1.45" fill="#000"/>
<circle cx="359.85" cy="400.53" r="1.45" fill="#000"/>
<line x1="264.8" y1="399.53" x2="271.0" y2="399.53" stroke="#000" stroke-width="1.6"/>
<rect x="271.0" y="415.40" width="68.73" height="13.15" fill="#fde3e1" stroke="#000" stroke-width="1.15"/>
<path d="M323.32,421.97 H356.15 M323.32,418.17 v7.6 M356.15,418.17 v7.6" stroke="#333" stroke-width="0.8" fill="none"/>
<circle cx="311.72" cy="421.97" r="1.45" fill="#000"/>
<circle cx="317.40" cy="421.97" r="1.45" fill="#000"/>
<circle cx="329.62" cy="421.97" r="1.45" fill="#000"/>
<circle cx="341.71" cy="421.97" r="1.45" fill="#000"/>
<circle cx="345.90" cy="421.97" r="1.45" fill="#000"/>
<circle cx="348.12" cy="421.97" r="1.45" fill="#000"/>
<circle cx="350.10" cy="421.97" r="1.45" fill="#000"/>
<circle cx="353.68" cy="421.97" r="1.45" fill="#000"/>
<circle cx="363.30" cy="421.97" r="1.45" fill="#000"/>
<line x1="264.8" y1="421.97" x2="271.0" y2="421.97" stroke="#000" stroke-width="1.6"/>
<rect x="271.0" y="437.83" width="110.20" height="13.15" fill="#9a9b9c" stroke="#000" stroke-width="1.15"/>
<path d="M358.12,444.41 H404.27 M358.12,440.61 v7.6 M404.27,440.61 v7.6" stroke="#333" stroke-width="0.8" fill="none"/>
<circle cx="356.27" cy="444.41" r="1.45" fill="#000"/>
<circle cx="364.04" cy="444.41" r="1.45" fill="#000"/>
<circle cx="366.88" cy="444.41" r="1.45" fill="#000"/>
<circle cx="389.83" cy="444.41" r="1.45" fill="#000"/>
<circle cx="404.64" cy="444.41" r="1.45" fill="#000"/>
<circle cx="412.29" cy="444.41" r="1.45" fill="#000"/>
<line x1="264.8" y1="444.41" x2="271.0" y2="444.41" stroke="#000" stroke-width="1.6"/>
<rect x="271.0" y="460.28" width="88.35" height="13.15" fill="#4d7cc0" stroke="#000" stroke-width="1.15"/>
<path d="M342.08,466.85 H376.63 M342.08,463.05 v7.6 M376.63,463.05 v7.6" stroke="#333" stroke-width="0.8" fill="none"/>
<circle cx="338.01" cy="464.05" r="1.45" fill="#000"/>
<circle cx="336.16" cy="469.65" r="1.45" fill="#000"/>
<circle cx="353.68" cy="466.85" r="1.45" fill="#000"/>
<circle cx="359.85" cy="466.85" r="1.45" fill="#000"/>
<circle cx="368.36" cy="464.05" r="1.45" fill="#000"/>
<circle cx="366.88" cy="469.65" r="1.45" fill="#000"/>
<circle cx="371.08" cy="469.65" r="1.45" fill="#000"/>
<circle cx="387.86" cy="466.85" r="1.45" fill="#000"/>
<line x1="264.8" y1="466.85" x2="271.0" y2="466.85" stroke="#000" stroke-width="1.6"/>
<rect x="271.0" y="482.71" width="129.45" height="13.15" fill="#f4cfa2" stroke="#000" stroke-width="1.15"/>
<path d="M365.89,489.29 H435.00 M365.89,485.49 v7.6 M435.00,485.49 v7.6" stroke="#333" stroke-width="0.8" fill="none"/>
<circle cx="366.02" cy="489.29" r="1.45" fill="#000"/>
<circle cx="371.69" cy="489.29" r="1.45" fill="#000"/>
<circle cx="373.30" cy="489.29" r="1.45" fill="#000"/>
<circle cx="418.71" cy="489.29" r="1.45" fill="#000"/>
<circle cx="435.00" cy="489.29" r="1.45" fill="#000"/>
<circle cx="441.05" cy="489.29" r="1.45" fill="#000"/>
<line x1="264.8" y1="489.29" x2="271.0" y2="489.29" stroke="#000" stroke-width="1.6"/>
<line x1="271.0" y1="225.6" x2="271.0" y2="504.75" stroke="#000" stroke-width="1.75"/>
<line x1="270.15" y1="503.9" x2="456.95" y2="503.9" stroke="#000" stroke-width="1.75"/>
<line x1="271.00" y1="503.9" x2="271.00" y2="509.7" stroke="#000" stroke-width="1.8"/>
<text x="271.00" y="521.3" font-size="10.6" font-weight="bold" fill="#1a1a1a" text-anchor="middle" >0</text>
<line x1="277.17" y1="503.9" x2="277.17" y2="507.09999999999997" stroke="#000" stroke-width="1.5"/>
<line x1="283.34" y1="503.9" x2="283.34" y2="507.09999999999997" stroke="#000" stroke-width="1.5"/>
<line x1="289.51" y1="503.9" x2="289.51" y2="507.09999999999997" stroke="#000" stroke-width="1.5"/>
<line x1="295.68" y1="503.9" x2="295.68" y2="507.09999999999997" stroke="#000" stroke-width="1.5"/>
<line x1="301.85" y1="503.9" x2="301.85" y2="509.7" stroke="#000" stroke-width="1.8"/>
<text x="301.85" y="521.3" font-size="10.6" font-weight="bold" fill="#1a1a1a" text-anchor="middle" >25</text>
<line x1="308.02" y1="503.9" x2="308.02" y2="507.09999999999997" stroke="#000" stroke-width="1.5"/>
<line x1="314.19" y1="503.9" x2="314.19" y2="507.09999999999997" stroke="#000" stroke-width="1.5"/>
<line x1="320.36" y1="503.9" x2="320.36" y2="507.09999999999997" stroke="#000" stroke-width="1.5"/>
<line x1="326.53" y1="503.9" x2="326.53" y2="507.09999999999997" stroke="#000" stroke-width="1.5"/>
<line x1="332.70" y1="503.9" x2="332.70" y2="509.7" stroke="#000" stroke-width="1.8"/>
<text x="332.70" y="521.3" font-size="10.6" font-weight="bold" fill="#1a1a1a" text-anchor="middle" >50</text>
<line x1="338.87" y1="503.9" x2="338.87" y2="507.09999999999997" stroke="#000" stroke-width="1.5"/>
<line x1="345.04" y1="503.9" x2="345.04" y2="507.09999999999997" stroke="#000" stroke-width="1.5"/>
<line x1="351.21" y1="503.9" x2="351.21" y2="507.09999999999997" stroke="#000" stroke-width="1.5"/>
<line x1="357.38" y1="503.9" x2="357.38" y2="507.09999999999997" stroke="#000" stroke-width="1.5"/>
<line x1="363.55" y1="503.9" x2="363.55" y2="509.7" stroke="#000" stroke-width="1.8"/>
<text x="363.55" y="521.3" font-size="10.6" font-weight="bold" fill="#1a1a1a" text-anchor="middle" >75</text>
<line x1="369.72" y1="503.9" x2="369.72" y2="507.09999999999997" stroke="#000" stroke-width="1.5"/>
<line x1="375.89" y1="503.9" x2="375.89" y2="507.09999999999997" stroke="#000" stroke-width="1.5"/>
<line x1="382.06" y1="503.9" x2="382.06" y2="507.09999999999997" stroke="#000" stroke-width="1.5"/>
<line x1="388.23" y1="503.9" x2="388.23" y2="507.09999999999997" stroke="#000" stroke-width="1.5"/>
<line x1="394.40" y1="503.9" x2="394.40" y2="509.7" stroke="#000" stroke-width="1.8"/>
<text x="394.40" y="521.3" font-size="10.6" font-weight="bold" fill="#1a1a1a" text-anchor="middle" >100</text>
<line x1="400.57" y1="503.9" x2="400.57" y2="507.09999999999997" stroke="#000" stroke-width="1.5"/>
<line x1="406.74" y1="503.9" x2="406.74" y2="507.09999999999997" stroke="#000" stroke-width="1.5"/>
<line x1="412.91" y1="503.9" x2="412.91" y2="507.09999999999997" stroke="#000" stroke-width="1.5"/>
<line x1="419.08" y1="503.9" x2="419.08" y2="507.09999999999997" stroke="#000" stroke-width="1.5"/>
<line x1="425.25" y1="503.9" x2="425.25" y2="509.7" stroke="#000" stroke-width="1.8"/>
<text x="425.25" y="521.3" font-size="10.6" font-weight="bold" fill="#1a1a1a" text-anchor="middle" >125</text>
<line x1="431.42" y1="503.9" x2="431.42" y2="507.09999999999997" stroke="#000" stroke-width="1.5"/>
<line x1="437.59" y1="503.9" x2="437.59" y2="507.09999999999997" stroke="#000" stroke-width="1.5"/>
<line x1="443.76" y1="503.9" x2="443.76" y2="507.09999999999997" stroke="#000" stroke-width="1.5"/>
<line x1="449.93" y1="503.9" x2="449.93" y2="507.09999999999997" stroke="#000" stroke-width="1.5"/>
<line x1="456.10" y1="503.9" x2="456.10" y2="509.7" stroke="#000" stroke-width="1.8"/>
<text x="456.10" y="521.3" font-size="10.6" font-weight="bold" fill="#1a1a1a" text-anchor="middle" >150</text>
<text x="292.1" y="539.3" font-size="12" font-weight="bold" fill="#1a1a1a" text-anchor="start" textLength="140.6" lengthAdjust="spacingAndGlyphs">Relative Cell Number (%)</text>
<text x="330.85" y="215.2" font-size="12.1" font-weight="bold" fill="#111" text-anchor="start" textLength="53.6" lengthAdjust="spacingAndGlyphs">HCC1937</text>
<path d="M455.40,332.21 L455.40,329.16 M455.40,332.21 L458.30,331.27 M455.40,332.21 L457.19,334.68 M455.40,332.21 L453.61,334.68 M455.40,332.21 L452.50,331.27" stroke="#111" stroke-width="1.25" stroke-linecap="butt" fill="none"/>
<line x1="529.13" y1="224.3" x2="529.13" y2="503.2" stroke="#6f98d6" stroke-width="1.35" stroke-dasharray="4.3,2.3"/>
<rect x="484.05" y="234.35" width="148.30" height="13.5" fill="#000000" stroke="#000" stroke-width="1.15"/>
<path d="M621.97,241.10 H642.73 M621.97,237.30 v7.6 M642.73,237.30 v7.6" stroke="#9a9a9a" stroke-width="0.8" fill="none"/>
<circle cx="621.97" cy="235.10" r="1.6" fill="#a8a8a8"/>
<circle cx="632.35" cy="235.10" r="1.6" fill="#a8a8a8"/>
<circle cx="624.49" cy="241.10" r="1.6" fill="#a8a8a8"/>
<circle cx="628.49" cy="241.10" r="1.6" fill="#a8a8a8"/>
<circle cx="631.91" cy="241.10" r="1.6" fill="#a8a8a8"/>
<circle cx="640.95" cy="241.10" r="1.6" fill="#a8a8a8"/>
<circle cx="621.52" cy="247.10" r="1.6" fill="#a8a8a8"/>
<circle cx="630.87" cy="247.10" r="1.6" fill="#a8a8a8"/>
<circle cx="633.83" cy="247.10" r="1.6" fill="#a8a8a8"/>
<circle cx="655.34" cy="241.10" r="1.6" fill="#a8a8a8"/>
<line x1="477.85" y1="241.10" x2="484.05" y2="241.10" stroke="#000" stroke-width="1.6"/>
<rect x="484.05" y="257.00" width="99.51" height="13.15" fill="#e9a65c" stroke="#000" stroke-width="1.15"/>
<path d="M571.84,263.57 H595.27 M571.84,259.77 v7.6 M595.27,259.77 v7.6" stroke="#333" stroke-width="0.8" fill="none"/>
<circle cx="568.14" cy="263.57" r="1.45" fill="#000"/>
<circle cx="577.92" cy="263.57" r="1.45" fill="#000"/>
<circle cx="587.86" cy="260.67" r="1.45" fill="#000"/>
<circle cx="587.27" cy="266.07" r="1.45" fill="#000"/>
<circle cx="598.54" cy="263.57" r="1.45" fill="#000"/>
<line x1="477.85" y1="263.57" x2="484.05" y2="263.57" stroke="#000" stroke-width="1.6"/>
<rect x="484.05" y="279.46" width="45.08" height="13.15" fill="#e8908a" stroke="#000" stroke-width="1.15"/>
<path d="M523.65,286.04 H534.62 M523.65,282.24 v7.6 M534.62,282.24 v7.6" stroke="#333" stroke-width="0.8" fill="none"/>
<circle cx="522.61" cy="286.04" r="1.45" fill="#000"/>
<circle cx="527.06" cy="283.04" r="1.45" fill="#000"/>
<circle cx="528.69" cy="288.54" r="1.45" fill="#000"/>
<circle cx="524.68" cy="287.04" r="1.45" fill="#000"/>
<circle cx="535.51" cy="283.04" r="1.45" fill="#000"/>
<circle cx="538.03" cy="289.04" r="1.45" fill="#000"/>
<line x1="477.85" y1="286.04" x2="484.05" y2="286.04" stroke="#000" stroke-width="1.6"/>
<rect x="484.05" y="301.94" width="44.49" height="13.15" fill="#9cb4d8" stroke="#000" stroke-width="1.15"/>
<path d="M523.35,308.51 H533.73 M523.35,304.71 v7.6 M533.73,304.71 v7.6" stroke="#333" stroke-width="0.8" fill="none"/>
<circle cx="520.98" cy="308.51" r="1.45" fill="#000"/>
<circle cx="526.02" cy="308.51" r="1.45" fill="#000"/>
<circle cx="528.69" cy="306.01" r="1.45" fill="#000"/>
<circle cx="528.98" cy="311.01" r="1.45" fill="#000"/>
<circle cx="532.84" cy="305.51" r="1.45" fill="#000"/>
<circle cx="532.25" cy="311.01" r="1.45" fill="#000"/>
<circle cx="535.51" cy="306.51" r="1.45" fill="#000"/>
<circle cx="535.96" cy="311.51" r="1.45" fill="#000"/>
<line x1="477.85" y1="308.51" x2="484.05" y2="308.51" stroke="#000" stroke-width="1.6"/>
<rect x="484.05" y="324.41" width="67.33" height="13.15" fill="#7b9bcb" stroke="#000" stroke-width="1.15"/>
<path d="M541.74,330.98 H561.02 M541.74,327.18 v7.6 M561.02,327.18 v7.6" stroke="#333" stroke-width="0.8" fill="none"/>
<circle cx="538.33" cy="330.98" r="1.45" fill="#000"/>
<circle cx="541.74" cy="328.48" r="1.45" fill="#000"/>
<circle cx="541.74" cy="333.88" r="1.45" fill="#000"/>
<circle cx="548.26" cy="330.98" r="1.45" fill="#000"/>
<circle cx="551.67" cy="328.48" r="1.45" fill="#000"/>
<circle cx="551.38" cy="333.48" r="1.45" fill="#000"/>
<circle cx="555.98" cy="330.98" r="1.45" fill="#000"/>
<circle cx="561.02" cy="328.08" r="1.45" fill="#000"/>
<circle cx="561.02" cy="333.98" r="1.45" fill="#000"/>
<circle cx="564.73" cy="330.98" r="1.45" fill="#000"/>
<line x1="477.85" y1="330.98" x2="484.05" y2="330.98" stroke="#000" stroke-width="1.6"/>
<rect x="484.05" y="346.88" width="39.74" height="13.15" fill="#cf6708" stroke="#000" stroke-width="1.15"/>
<path d="M518.16,353.45 H529.43 M518.16,349.65 v7.6 M529.43,349.65 v7.6" stroke="#263816" stroke-width="0.8" fill="none"/>
<circle cx="513.71" cy="353.45" r="1.45" fill="#263816"/>
<circle cx="518.46" cy="353.45" r="1.45" fill="#263816"/>
<circle cx="522.31" cy="353.45" r="1.45" fill="#263816"/>
<circle cx="523.20" cy="347.55" r="1.45" fill="#263816"/>
<circle cx="526.02" cy="347.15" r="1.45" fill="#263816"/>
<circle cx="530.47" cy="347.15" r="1.45" fill="#263816"/>
<circle cx="525.43" cy="358.95" r="1.45" fill="#263816"/>
<circle cx="524.83" cy="353.45" r="1.45" fill="#263816"/>
<circle cx="529.87" cy="353.45" r="1.45" fill="#263816"/>
<circle cx="532.84" cy="353.45" r="1.45" fill="#263816"/>
<line x1="477.85" y1="353.45" x2="484.05" y2="353.45" stroke="#000" stroke-width="1.6"/>
<rect x="484.05" y="369.34" width="87.35" height="13.15" fill="#e06b60" stroke="#000" stroke-width="1.15"/>
<path d="M552.86,375.92 H589.94 M552.86,372.12 v7.6 M589.94,372.12 v7.6" stroke="#333" stroke-width="0.8" fill="none"/>
<circle cx="551.67" cy="370.32" r="1.45" fill="#000"/>
<circle cx="551.67" cy="381.52" r="1.45" fill="#000"/>
<circle cx="552.71" cy="375.92" r="1.45" fill="#000"/>
<circle cx="557.46" cy="375.92" r="1.45" fill="#000"/>
<circle cx="567.69" cy="375.92" r="1.45" fill="#000"/>
<circle cx="581.04" cy="372.92" r="1.45" fill="#000"/>
<circle cx="581.63" cy="378.92" r="1.45" fill="#000"/>
<circle cx="586.67" cy="375.92" r="1.45" fill="#000"/>
<circle cx="589.34" cy="381.72" r="1.45" fill="#000"/>
<circle cx="599.13" cy="375.92" r="1.45" fill="#000"/>
<line x1="477.85" y1="375.92" x2="484.05" y2="375.92" stroke="#000" stroke-width="1.6"/>
<rect x="484.05" y="391.81" width="80.68" height="13.15" fill="#ccd2d3" stroke="#000" stroke-width="1.15"/>
<path d="M555.83,398.39 H573.62 M555.83,394.59 v7.6 M573.62,394.59 v7.6" stroke="#333" stroke-width="0.8" fill="none"/>
<circle cx="558.05" cy="392.79" r="1.45" fill="#000"/>
<circle cx="561.61" cy="392.79" r="1.45" fill="#000"/>
<circle cx="565.62" cy="392.79" r="1.45" fill="#000"/>
<circle cx="556.42" cy="396.79" r="1.45" fill="#000"/>
<circle cx="560.57" cy="399.39" r="1.45" fill="#000"/>
<circle cx="564.73" cy="397.39" r="1.45" fill="#000"/>
<circle cx="557.46" cy="404.19" r="1.45" fill="#000"/>
<circle cx="560.57" cy="404.19" r="1.45" fill="#000"/>
<circle cx="574.51" cy="398.39" r="1.45" fill="#000"/>
<circle cx="588.30" cy="398.39" r="1.45" fill="#000"/>
<line x1="477.85" y1="398.39" x2="484.05" y2="398.39" stroke="#000" stroke-width="1.6"/>
<rect x="484.05" y="414.29" width="50.87" height="13.15" fill="#fde3e1" stroke="#000" stroke-width="1.15"/>
<path d="M523.79,420.86 H546.04 M523.79,417.06 v7.6 M546.04,417.06 v7.6" stroke="#333" stroke-width="0.8" fill="none"/>
<circle cx="522.01" cy="420.86" r="1.45" fill="#000"/>
<circle cx="527.65" cy="417.36" r="1.45" fill="#000"/>
<circle cx="529.13" cy="423.36" r="1.45" fill="#000"/>
<circle cx="532.84" cy="415.86" r="1.45" fill="#000"/>
<circle cx="532.40" cy="421.86" r="1.45" fill="#000"/>
<circle cx="538.62" cy="420.86" r="1.45" fill="#000"/>
<circle cx="539.96" cy="427.06" r="1.45" fill="#000"/>
<circle cx="561.02" cy="420.86" r="1.45" fill="#000"/>
<line x1="477.85" y1="420.86" x2="484.05" y2="420.86" stroke="#000" stroke-width="1.6"/>
<rect x="484.05" y="436.75" width="42.64" height="13.15" fill="#9a9b9c" stroke="#000" stroke-width="1.15"/>
<path d="M523.87,443.33 H529.50 M523.87,439.53 v7.6 M529.50,439.53 v7.6" stroke="#333" stroke-width="0.8" fill="none"/>
<circle cx="525.57" cy="436.73" r="1.45" fill="#000"/>
<circle cx="524.09" cy="439.83" r="1.45" fill="#000"/>
<circle cx="527.06" cy="439.83" r="1.45" fill="#000"/>
<circle cx="530.76" cy="439.33" r="1.45" fill="#000"/>
<circle cx="520.98" cy="443.93" r="1.45" fill="#000"/>
<circle cx="524.09" cy="443.93" r="1.45" fill="#000"/>
<circle cx="527.65" cy="443.93" r="1.45" fill="#000"/>
<circle cx="533.43" cy="443.93" r="1.45" fill="#000"/>
<circle cx="524.68" cy="447.83" r="1.45" fill="#000"/>
<circle cx="528.69" cy="447.83" r="1.45" fill="#000"/>
<circle cx="532.84" cy="447.83" r="1.45" fill="#000"/>
<line x1="477.85" y1="443.33" x2="484.05" y2="443.33" stroke="#000" stroke-width="1.6"/>
<rect x="484.05" y="459.22" width="94.32" height="13.15" fill="#4d7cc0" stroke="#000" stroke-width="1.15"/>
<path d="M569.17,465.80 H587.56 M569.17,462.00 v7.6 M587.56,462.00 v7.6" stroke="#333" stroke-width="0.8" fill="none"/>
<circle cx="566.65" cy="465.80" r="1.45" fill="#000"/>
<circle cx="570.81" cy="460.00" r="1.45" fill="#000"/>
<circle cx="571.25" cy="471.60" r="1.45" fill="#000"/>
<circle cx="570.21" cy="465.80" r="1.45" fill="#000"/>
<circle cx="584.15" cy="459.60" r="1.45" fill="#000"/>
<circle cx="589.34" cy="459.60" r="1.45" fill="#000"/>
<circle cx="581.04" cy="465.80" r="1.45" fill="#000"/>
<circle cx="585.19" cy="465.80" r="1.45" fill="#000"/>
<circle cx="588.30" cy="465.80" r="1.45" fill="#000"/>
<circle cx="584.15" cy="472.00" r="1.45" fill="#000"/>
<line x1="477.85" y1="465.80" x2="484.05" y2="465.80" stroke="#000" stroke-width="1.6"/>
<rect x="484.05" y="481.69" width="95.36" height="13.15" fill="#f4cfa2" stroke="#000" stroke-width="1.15"/>
<path d="M559.09,488.27 H599.72 M559.09,484.47 v7.6 M599.72,484.47 v7.6" stroke="#333" stroke-width="0.8" fill="none"/>
<circle cx="553.75" cy="488.27" r="1.45" fill="#000"/>
<circle cx="557.01" cy="488.27" r="1.45" fill="#000"/>
<circle cx="559.98" cy="482.47" r="1.45" fill="#000"/>
<circle cx="559.98" cy="488.27" r="1.45" fill="#000"/>
<circle cx="565.62" cy="488.27" r="1.45" fill="#000"/>
<circle cx="573.47" cy="488.27" r="1.45" fill="#000"/>
<circle cx="594.39" cy="482.07" r="1.45" fill="#000"/>
<circle cx="592.01" cy="488.27" r="1.45" fill="#000"/>
<circle cx="592.31" cy="494.07" r="1.45" fill="#000"/>
<circle cx="602.69" cy="488.27" r="1.45" fill="#000"/>
<circle cx="607.73" cy="488.27" r="1.45" fill="#000"/>
<line x1="477.85" y1="488.27" x2="484.05" y2="488.27" stroke="#000" stroke-width="1.6"/>
<line x1="484.05" y1="223.9" x2="484.05" y2="504.05" stroke="#000" stroke-width="1.75"/>
<line x1="483.2" y1="503.2" x2="670.27" y2="503.2" stroke="#000" stroke-width="1.75"/>
<line x1="484.05" y1="503.2" x2="484.05" y2="509.0" stroke="#000" stroke-width="1.8"/>
<text x="484.05" y="520.6" font-size="10.6" font-weight="bold" fill="#1a1a1a" text-anchor="middle" >0</text>
<line x1="491.47" y1="503.2" x2="491.47" y2="506.4" stroke="#000" stroke-width="1.5"/>
<line x1="498.88" y1="503.2" x2="498.88" y2="506.4" stroke="#000" stroke-width="1.5"/>
<line x1="506.30" y1="503.2" x2="506.30" y2="506.4" stroke="#000" stroke-width="1.5"/>
<line x1="513.71" y1="503.2" x2="513.71" y2="506.4" stroke="#000" stroke-width="1.5"/>
<line x1="521.12" y1="503.2" x2="521.12" y2="509.0" stroke="#000" stroke-width="1.8"/>
<text x="521.12" y="520.6" font-size="10.6" font-weight="bold" fill="#1a1a1a" text-anchor="middle" >25</text>
<line x1="528.54" y1="503.2" x2="528.54" y2="506.4" stroke="#000" stroke-width="1.5"/>
<line x1="535.96" y1="503.2" x2="535.96" y2="506.4" stroke="#000" stroke-width="1.5"/>
<line x1="543.37" y1="503.2" x2="543.37" y2="506.4" stroke="#000" stroke-width="1.5"/>
<line x1="550.78" y1="503.2" x2="550.78" y2="506.4" stroke="#000" stroke-width="1.5"/>
<line x1="558.20" y1="503.2" x2="558.20" y2="509.0" stroke="#000" stroke-width="1.8"/>
<text x="558.20" y="520.6" font-size="10.6" font-weight="bold" fill="#1a1a1a" text-anchor="middle" >50</text>
<line x1="565.62" y1="503.2" x2="565.62" y2="506.4" stroke="#000" stroke-width="1.5"/>
<line x1="573.03" y1="503.2" x2="573.03" y2="506.4" stroke="#000" stroke-width="1.5"/>
<line x1="580.45" y1="503.2" x2="580.45" y2="506.4" stroke="#000" stroke-width="1.5"/>
<line x1="587.86" y1="503.2" x2="587.86" y2="506.4" stroke="#000" stroke-width="1.5"/>
<line x1="595.27" y1="503.2" x2="595.27" y2="509.0" stroke="#000" stroke-width="1.8"/>
<text x="595.27" y="520.6" font-size="10.6" font-weight="bold" fill="#1a1a1a" text-anchor="middle" >75</text>
<line x1="602.69" y1="503.2" x2="602.69" y2="506.4" stroke="#000" stroke-width="1.5"/>
<line x1="610.11" y1="503.2" x2="610.11" y2="506.4" stroke="#000" stroke-width="1.5"/>
<line x1="617.52" y1="503.2" x2="617.52" y2="506.4" stroke="#000" stroke-width="1.5"/>
<line x1="624.94" y1="503.2" x2="624.94" y2="506.4" stroke="#000" stroke-width="1.5"/>
<line x1="632.35" y1="503.2" x2="632.35" y2="509.0" stroke="#000" stroke-width="1.8"/>
<text x="632.35" y="520.6" font-size="10.6" font-weight="bold" fill="#1a1a1a" text-anchor="middle" >100</text>
<line x1="639.76" y1="503.2" x2="639.76" y2="506.4" stroke="#000" stroke-width="1.5"/>
<line x1="647.18" y1="503.2" x2="647.18" y2="506.4" stroke="#000" stroke-width="1.5"/>
<line x1="654.60" y1="503.2" x2="654.60" y2="506.4" stroke="#000" stroke-width="1.5"/>
<line x1="662.01" y1="503.2" x2="662.01" y2="506.4" stroke="#000" stroke-width="1.5"/>
<line x1="669.42" y1="503.2" x2="669.42" y2="509.0" stroke="#000" stroke-width="1.8"/>
<text x="669.42" y="520.6" font-size="10.6" font-weight="bold" fill="#1a1a1a" text-anchor="middle" >125</text>
<text x="507.9" y="538.2" font-size="12" font-weight="bold" fill="#1a1a1a" text-anchor="start" textLength="136" lengthAdjust="spacingAndGlyphs">Relative Cell Number (%)</text>
<text x="531.5" y="215.4" font-size="12.1" font-weight="bold" fill="#111" text-anchor="start" textLength="75.6" lengthAdjust="spacingAndGlyphs">MDA-MB-231</text>
<path d="M667.90,240.30 L667.90,237.25 M667.90,240.30 L670.80,239.36 M667.90,240.30 L669.69,242.77 M667.90,240.30 L666.11,242.77 M667.90,240.30 L665.00,239.36" stroke="#111" stroke-width="1.25" stroke-linecap="butt" fill="none"/>
<path d="M667.90,262.77 L667.90,259.72 M667.90,262.77 L670.80,261.83 M667.90,262.77 L669.69,265.24 M667.90,262.77 L666.11,265.24 M667.90,262.77 L665.00,261.83" stroke="#111" stroke-width="1.25" stroke-linecap="butt" fill="none"/>
<path d="M667.90,330.18 L667.90,327.13 M667.90,330.18 L670.80,329.24 M667.90,330.18 L669.69,332.65 M667.90,330.18 L666.11,332.65 M667.90,330.18 L665.00,329.24" stroke="#111" stroke-width="1.25" stroke-linecap="butt" fill="none"/>
<path d="M667.90,375.12 L667.90,372.07 M667.90,375.12 L670.80,374.18 M667.90,375.12 L669.69,377.59 M667.90,375.12 L666.11,377.59 M667.90,375.12 L665.00,374.18" stroke="#111" stroke-width="1.25" stroke-linecap="butt" fill="none"/>
<path d="M667.90,397.59 L667.90,394.54 M667.90,397.59 L670.80,396.65 M667.90,397.59 L669.69,400.06 M667.90,397.59 L666.11,400.06 M667.90,397.59 L665.00,396.65" stroke="#111" stroke-width="1.25" stroke-linecap="butt" fill="none"/>
<path d="M667.90,465.00 L667.90,461.95 M667.90,465.00 L670.80,464.06 M667.90,465.00 L669.69,467.47 M667.90,465.00 L666.11,467.47 M667.90,465.00 L665.00,464.06" stroke="#111" stroke-width="1.25" stroke-linecap="butt" fill="none"/>
<path d="M667.90,487.47 L667.90,484.42 M667.90,487.47 L670.80,486.53 M667.90,487.47 L669.69,489.94 M667.90,487.47 L666.11,489.94 M667.90,487.47 L665.00,486.53" stroke="#111" stroke-width="1.25" stroke-linecap="butt" fill="none"/>
</svg>
</body></html>
